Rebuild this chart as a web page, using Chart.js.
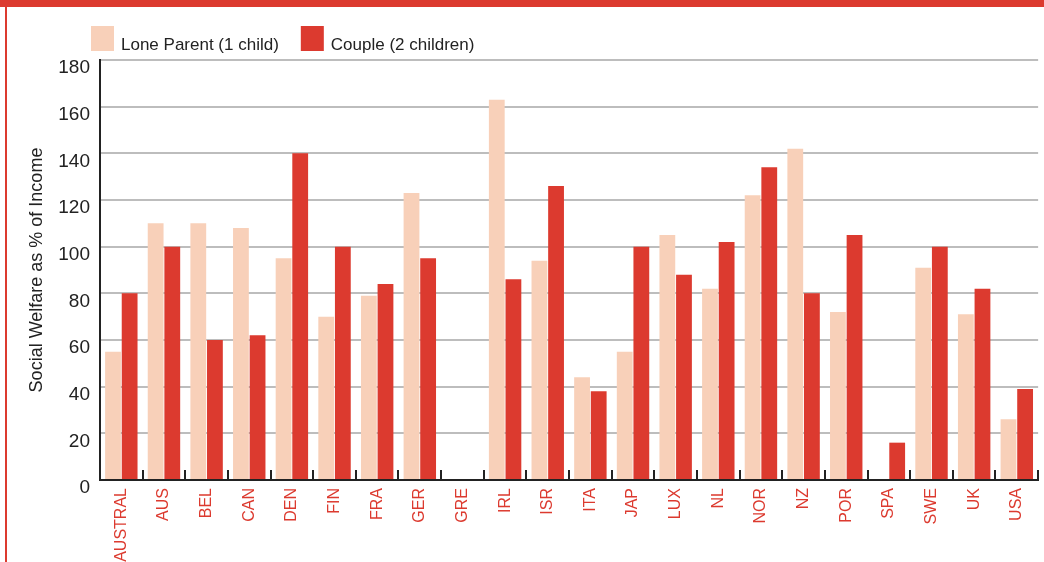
<!DOCTYPE html>
<html>
<head>
<meta charset="utf-8">
<script src="https://cdn.jsdelivr.net/npm/chart.js@4"></script>
<style>
    body { margin: 0; background: #fff; overflow: hidden; }
    .topBar { position: absolute; left: 0; top: 0; width: 1044px; height: 7px; background: #DC3A2F; }
    .sideBar { position: absolute; left: 5px; top: 0; width: 2px; height: 562px; background: #DC3A2F; }
    .chartBox { position: absolute; left: 7px; top: 7px; width: 1037px; height: 555px; }
</style>
</head>
<body>
<div class="topBar"></div>
<div class="sideBar"></div>
<div class="chartBox"><canvas id="welfareChart"></canvas></div>
<script>
const countries = ['AUSTRAL', 'AUS', 'BEL', 'CAN', 'DEN', 'FIN', 'FRA', 'GER', 'GRE', 'IRL', 'ISR',
    'ITA', 'JAP', 'LUX', 'NL', 'NOR', 'NZ', 'POR', 'SPA', 'SWE', 'UK', 'USA'];
const loneParent = [55, 110, 110, 108, 95, 70, 79, 123, null, 163, 94,
    44, 55, 105, 82, 122, 142, 72, null, 91, 71, 26];
const couple = [80, 100, 60, 62, 140, 100, 84, 95, null, 86, 126,
    38, 100, 88, 102, 134, 80, 105, 16, 100, 82, 39];
const yTicks = [0, 20, 40, 60, 80, 100, 120, 140, 160, 180];

const lightColor = '#F8D0B9';
const redColor = '#DC3A2F';
const fontFamily = '"Liberation Sans", Arial, sans-serif';

const welfareChart = document.querySelector('#welfareChart');

// legend drawn by hand so it can sit above the plot on the left
const legendPlugin = {
    id: 'topLegend',
    afterDraw(chart) {
        const ctx = chart.ctx;
        let x = 84;
        ctx.save();
        ctx.font = '17px ' + fontFamily;
        ctx.textBaseline = 'alphabetic';
        chart.data.datasets.forEach(ds => {
            ctx.fillStyle = ds.backgroundColor;
            ctx.fillRect(x, 19, 23, 25);
            ctx.fillStyle = '#222';
            ctx.fillText(ds.label, x + 30, 43);
            x += 30 + ctx.measureText(ds.label).width + 22;
        });
        ctx.restore();
    }
};

// short upward tick marks between the country groups
const groupTicks = {
    id: 'groupTicks',
    afterDatasetsDraw(chart) {
        const ctx = chart.ctx;
        const xScale = chart.scales.x;
        const bottom = chart.chartArea.bottom;
        ctx.save();
        ctx.strokeStyle = '#222';
        ctx.lineWidth = 2;
        for (let i = 1; i <= countries.length; i++) {
            const x = i < countries.length
                ? (xScale.getPixelForValue(i - 1) + xScale.getPixelForValue(i)) / 2
                : chart.chartArea.right;
            ctx.beginPath();
            ctx.moveTo(Math.round(x), bottom);
            ctx.lineTo(Math.round(x), bottom - 10);
            ctx.stroke();
        }
        ctx.restore();
    }
};

new Chart(welfareChart, {
    type: 'bar',
    data: {
        labels: countries,
        datasets: [{
            label: 'Lone Parent (1 child)',
            data: loneParent,
            backgroundColor: lightColor
        }, {
            label: 'Couple (2 children)',
            data: couple,
            backgroundColor: redColor
        }]
    },
    plugins: [legendPlugin, groupTicks],
    options: {
        responsive: true,
        maintainAspectRatio: false,
        animation: false,
        layout: {
            padding: { top: 53, right: 0, left: 0, bottom: 0 }
        },
        datasets: {
            bar: {
                categoryPercentage: 0.78,
                barPercentage: 0.95
            }
        },
        plugins: {
            legend: { display: false },
            tooltip: { enabled: false }
        },
        scales: {
            x: {
                afterFit: scale => { scale.height = 82; },
                grid: { drawOnChartArea: false, drawTicks: false },
                border: { color: '#222', width: 2 },
                ticks: {
                    color: redColor,
                    font: { family: fontFamily, size: 16 },
                    minRotation: 90,
                    maxRotation: 90,
                    autoSkip: false,
                    padding: 8
                }
            },
            y: {
                min: 0,
                max: 180,
                afterFit: scale => { scale.width = 93; },
                afterBuildTicks: scale => { scale.ticks = yTicks.map(v => ({ value: v })); },
                grid: { color: '#bdbdbd', lineWidth: 2, drawTicks: false },
                border: { color: '#222', width: 2 },
                ticks: {
                    color: '#222',
                    font: { family: fontFamily, size: 19 },
                    padding: 10,
                    labelOffset: 8
                },
                title: {
                    display: true,
                    text: 'Social Welfare as % of Income',
                    color: '#222',
                    font: { family: fontFamily, size: 18 },
                    padding: { top: 19, bottom: 0 }
                }
            }
        }
    }
});
</script>
</body>
</html>
